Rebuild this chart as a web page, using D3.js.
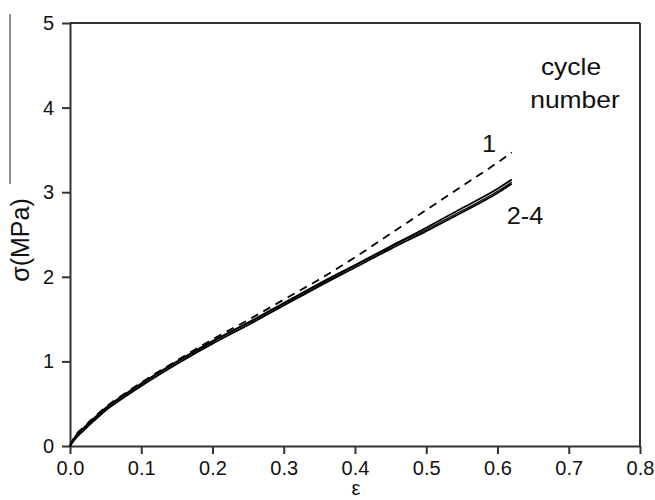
<!DOCTYPE html>
<html><head><meta charset="utf-8">
<script src="https://cdn.jsdelivr.net/npm/d3@7"></script>
<style>body{margin:0;background:#fff}svg{display:block}text{font-family:Arial,"Liberation Sans",sans-serif;fill:#111}</style>
</head><body><svg id="c" width="655" height="500"></svg>
<script>
const xTicks = [0,0.1,0.2,0.3,0.4,0.5,0.6,0.7,0.8];
const yTicks = [0,1,2,3,4,5];
const strain = [0,0.005,0.01,0.02,0.03,0.05,0.075,0.1,0.15,0.2,0.25,0.3,0.35,0.4,0.45,0.5,0.55,0.6,0.62];
const cycle1 = [0,0.09,0.15,0.23,0.31,0.46,0.61,0.75,1.01,1.26,1.49,1.73,1.97,2.23,2.51,2.79,3.07,3.35,3.47];
const cycle2 = [0,0.08,0.14,0.22,0.30,0.45,0.60,0.74,1.00,1.24,1.46,1.69,1.92,2.14,2.36,2.58,2.81,3.04,3.15];
const cycle3 = [0,0.06,0.11,0.19,0.27,0.42,0.57,0.71,0.97,1.21,1.43,1.66,1.89,2.11,2.33,2.54,2.76,2.99,3.10];
const cycle4 = [0,0.07,0.13,0.21,0.29,0.44,0.59,0.73,0.99,1.23,1.45,1.68,1.91,2.13,2.35,2.56,2.78,3.01,3.12];

const svg = d3.select("#c");
const x = d3.scaleLinear().domain([0,0.8]).range([70,640]);
const y = d3.scaleLinear().domain([0,5]).range([446,23]);
const axisColor = "#333";

// frame
svg.append("line").attr("x1",70).attr("x2",640).attr("y1",y(5)).attr("y2",y(5)).attr("stroke",axisColor).attr("stroke-width",2);
svg.append("line").attr("x1",640).attr("x2",640).attr("y1",y(5)).attr("y2",y(0)).attr("stroke",axisColor).attr("stroke-width",2);
// stray line at left
svg.append("line").attr("x1",10).attr("x2",10).attr("y1",14).attr("y2",184).attr("stroke","#222").attr("stroke-width",1);

const xAxis = svg.append("g").attr("transform",`translate(0,${y(0)})`)
  .call(d3.axisBottom(x).tickValues(xTicks).tickFormat(d3.format(".1f")).tickSize(8).tickSizeOuter(0).tickPadding(7));
const yAxis = svg.append("g").attr("transform",`translate(${x(0)},0)`)
  .call(d3.axisLeft(y).tickValues(yTicks).tickFormat(d3.format("d")).tickSize(8).tickSizeOuter(0).tickPadding(8));
[xAxis,yAxis].forEach(g=>{
  g.selectAll("path,line").attr("stroke",axisColor).attr("stroke-width",2);
  g.selectAll("text").style("font-size","20px").attr("fill","#111");
});

const line = d3.line().x((d,i)=>x(strain[i])).y(d=>y(d)).curve(d3.curveMonotoneX);
[cycle3,cycle4,cycle2].forEach((s,k)=>{
  svg.append("path").attr("d",line(s)).attr("fill","none").attr("stroke","#000").attr("stroke-width",k===1?1.2:1.8);
});
svg.append("path").attr("d",line(cycle1)).attr("fill","none").attr("stroke","#000").attr("stroke-width",1.8).attr("stroke-dasharray","8,6");

function label(t,cx,by,size,sx){
  svg.append("text").attr("transform",`translate(${cx},${by}) scale(${sx},1)`).attr("text-anchor","middle").style("font-size",size+"px").text(t);
}
label("cycle",571,75,23,1.15);
label("number",575,108,23,1.15);
label("1",489,152,23,1.1);
label("2-4",525,224,23,1.1);

svg.append("text").attr("transform","translate(29,240) rotate(-90)").attr("text-anchor","middle").style("font-size","25px").text("σ(MPa)");
svg.append("text").attr("x",356).attr("y",495).attr("text-anchor","middle").style("font-size","20px").text("ε");
</script></body></html>
